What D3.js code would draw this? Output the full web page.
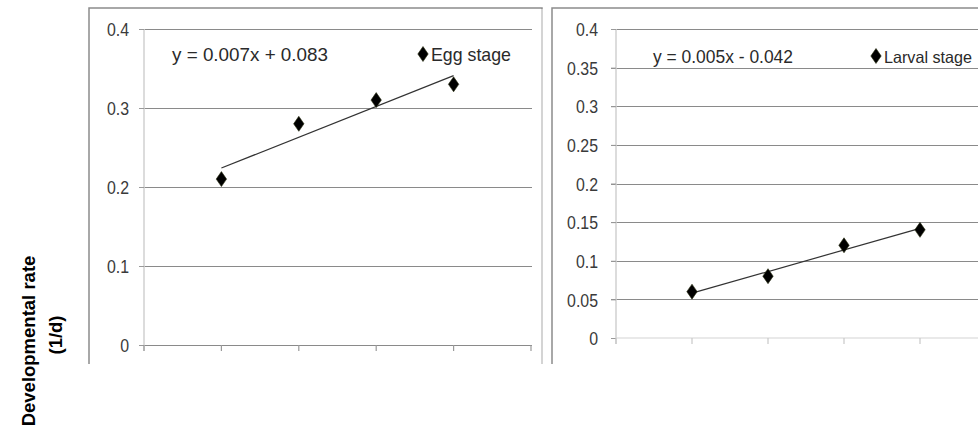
<!DOCTYPE html>
<html>
<head>
<meta charset="utf-8">
<script src="https://cdn.jsdelivr.net/npm/d3@7"></script>
<style>
  html, body { margin: 0; padding: 0; background: #fff; }
  svg { display: block; }
</style>
</head>
<body>
<svg id="chart" width="978" height="435"></svg>
<script>
// Temperature steps along the x axis (unlabelled positions 1..4)
const xSteps = [1, 2, 3, 4];
const xTickSteps = [0, 1, 2, 3, 4, 5];

// Developmental rate (1/d) per stage
const eggRates = [0.21, 0.28, 0.31, 0.33];
const larvalRates = [0.06, 0.08, 0.12, 0.14];

// Y tick values for each panel
const eggTicks = [0, 0.1, 0.2, 0.3, 0.4];
const larvalTicks = [0, 0.05, 0.1, 0.15, 0.2, 0.25, 0.3, 0.35, 0.4];

// Labels
const eggEquation = "y = 0.007x + 0.083";
const larvalEquation = "y = 0.005x - 0.042";
const eggLegend = "Egg stage";
const larvalLegend = "Larval stage";
const yTitle = ["Developmental rate", "(1/d)"];

const svg = d3.select("#chart");
const font = '"Liberation Sans", Arial, sans-serif';

// least-squares fit used for the trend line
function fit(xs, ys) {
  const mx = d3.mean(xs), my = d3.mean(ys);
  const sxy = d3.sum(xs, (x, i) => (x - mx) * (ys[i] - my));
  const sxx = d3.sum(xs, x => (x - mx) * (x - mx));
  const b = sxy / sxx;
  return x => my + b * (x - mx);
}

function diamond(sel) {
  return sel.attr("d", "M0,-7.5L5.2,0L0,7.5L-5.2,0Z")
    .attr("fill", "#000")
    .attr("stroke", "#2a2f10")
    .attr("stroke-width", 0.6);
}

function panel(cfg) {
  const g = svg.append("g");
  // frame (bottom edge is outside the view)
  g.append("path")
    .attr("d", `M${cfg.frame[0]},${cfg.frame[3]}V${cfg.frame[1]}H${cfg.frame[2]}V${cfg.frame[3]}`)
    .attr("fill", "none")
    .attr("stroke", "#8c8c8c")
    .attr("stroke-width", 1.5);
  if (cfg.rightEdgeLight) {
    g.append("line")
      .attr("x1", cfg.frame[2]).attr("x2", cfg.frame[2])
      .attr("y1", cfg.frame[1] + 1).attr("y2", cfg.frame[3])
      .attr("stroke", "#d4d4d4").attr("stroke-width", 2);
  }

  const x = d3.scaleLinear().domain([0, 5]).range(cfg.xRange);
  const y = d3.scaleLinear().domain([0, 0.4]).range(cfg.yRange);

  // horizontal gridlines
  g.append("g").selectAll("line")
    .data(cfg.ticks.filter(t => t > 0 || cfg.zeroDark))
    .join("line")
    .attr("x1", x(0) - 5).attr("x2", cfg.gridEnd)
    .attr("y1", d => Math.round(y(d)) + 0.5).attr("y2", d => Math.round(y(d)) + 0.5)
    .attr("stroke", "#8a8a8a").attr("stroke-width", 1.2);

  // y axis; labels drawn in a narrowed face
  const yAxis = d3.axisLeft(y).tickValues(cfg.ticks).tickSize(5).tickPadding(cfg.labelPad)
    .tickFormat(d => String(+d.toFixed(2)));
  const ya = g.append("g").attr("transform", `translate(${x(0)},0)`).call(yAxis);
  ya.select(".domain").attr("stroke", "#d0d0d0").attr("stroke-width", 1.5)
    .attr("d", `M0,${cfg.yRange[1]}V${cfg.yRange[0] + 6}`);
  ya.selectAll(".tick line").attr("stroke", "#9a9a9a");
  ya.selectAll(".tick text")
    .attr("x", null)
    .attr("transform", `translate(${-(5 + cfg.labelPad)},0) scale(0.86,1)`)
    .attr("font-family", font).attr("font-size", 18.5)
    .attr("fill", "#3a3a3a").attr("dy", "0.36em");

  // x axis baseline and ticks
  if (!cfg.zeroDark) {
    g.append("line")
      .attr("x1", x(0)).attr("x2", cfg.gridEnd)
      .attr("y1", y(0)).attr("y2", y(0))
      .attr("stroke", "#d4d4d4").attr("stroke-width", 1.2);
  }
  g.append("g").selectAll("line")
    .data(xTickSteps)
    .join("line")
    .attr("x1", d => x(d)).attr("x2", d => x(d))
    .attr("y1", y(0)).attr("y2", y(0) + 6)
    .attr("stroke", cfg.zeroDark ? "#9a9a9a" : "#c8c8c8").attr("stroke-width", 1.2);

  // trend line from least-squares fit
  const f = fit(xSteps, cfg.values);
  g.append("line")
    .attr("x1", x(xSteps[0])).attr("y1", y(f(xSteps[0])))
    .attr("x2", x(xSteps[xSteps.length - 1])).attr("y2", y(f(xSteps[xSteps.length - 1])))
    .attr("stroke", "#333").attr("stroke-width", 1.2);

  // data markers
  g.append("g").selectAll("path")
    .data(cfg.values)
    .join("path")
    .attr("transform", (d, i) => `translate(${x(xSteps[i])},${y(d)})`)
    .call(diamond);

  // equation
  g.append("text")
    .attr("x", cfg.eqPos[0]).attr("y", cfg.eqPos[1])
    .attr("font-family", font).attr("font-size", 19)
    .attr("textLength", cfg.eqWidth).attr("lengthAdjust", "spacingAndGlyphs")
    .attr("fill", "#2a2a2a")
    .text(cfg.equation);

  // legend
  g.append("path")
    .attr("transform", `translate(${cfg.legPos[0]},${cfg.legPos[1] - 7})`)
    .call(diamond);
  g.append("text")
    .attr("x", cfg.legPos[0] + 8).attr("y", cfg.legPos[1])
    .attr("font-family", font).attr("font-size", cfg.legSize)
    .attr("textLength", cfg.legWidth).attr("lengthAdjust", "spacingAndGlyphs")
    .attr("fill", "#2a2a2a")
    .text(cfg.legend);
}

panel({
  frame: [89, 8, 542, 364],
  rightEdgeLight: true,
  xRange: [144, 531],
  yRange: [345, 29],
  gridEnd: 532,
  ticks: eggTicks,
  zeroDark: true,
  labelPad: 10,
  values: eggRates,
  equation: eggEquation,
  eqPos: [172, 61],
  eqWidth: 156,
  legend: eggLegend,
  legPos: [423, 61],
  legWidth: 80,
  legSize: 19
});

panel({
  frame: [552, 8, 990, 364],
  rightEdgeLight: false,
  xRange: [616, 996],
  yRange: [338, 29],
  gridEnd: 990,
  ticks: larvalTicks,
  zeroDark: false,
  labelPad: 13,
  values: larvalRates,
  equation: larvalEquation,
  eqPos: [653, 63],
  eqWidth: 140,
  legend: larvalLegend,
  legPos: [876, 63],
  legWidth: 88,
  legSize: 16.5
});

// shared y axis title, two rotated lines
svg.append("text")
  .attr("transform", "translate(35,341) rotate(-90)")
  .attr("text-anchor", "middle")
  .attr("font-family", font)
  .attr("font-weight", "bold")
  .attr("font-size", 18.5)
  .attr("fill", "#000")
  .text(yTitle[0]);
svg.append("text")
  .attr("transform", "translate(62,335) rotate(-90)")
  .attr("text-anchor", "middle")
  .attr("font-family", font)
  .attr("font-weight", "bold")
  .attr("font-size", 18.5)
  .attr("fill", "#000")
  .text(yTitle[1]);
</script>
</body>
</html>
